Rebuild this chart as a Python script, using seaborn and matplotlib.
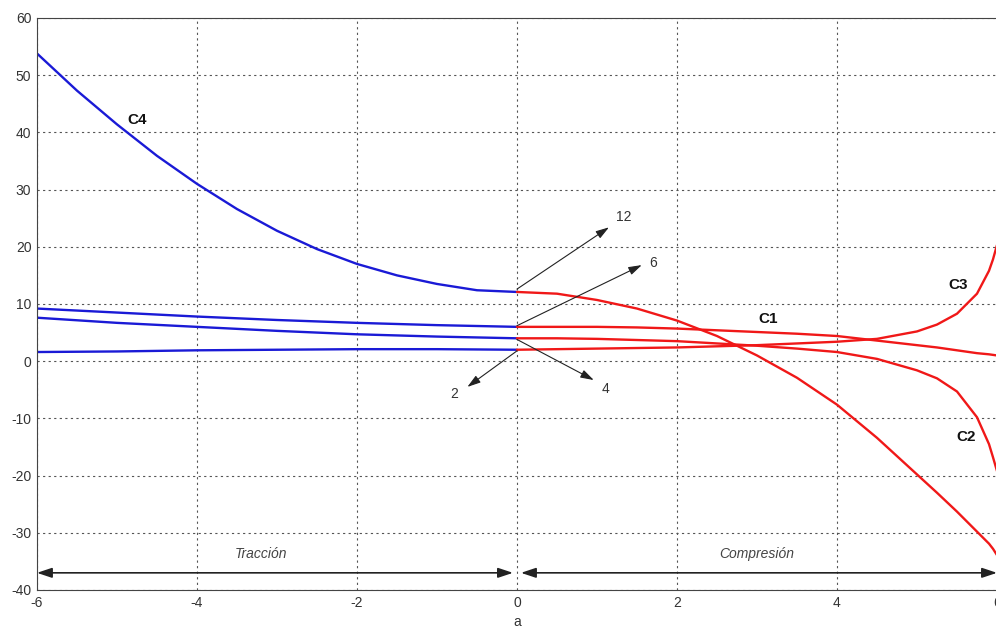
import numpy as np
import pandas as pd
import seaborn as sns
import matplotlib
matplotlib.use("Agg")
import matplotlib.pyplot as plt

# ---- data ----
x_left = [-6, -5.5, -5, -4.5, -4, -3.5, -3, -2.5, -2, -1.5, -1, -0.5, 0]
c4_left = [53.8, 47.3, 41.4, 35.9, 31.0, 26.6, 22.8, 19.6, 17.0, 15.0, 13.5, 12.4, 12.1]

x_left_flat = [-6, -5, -4, -3, -2, -1, 0]
c1_left = [9.2, 8.5, 7.8, 7.2, 6.7, 6.3, 6.0]
c2_left = [7.6, 6.7, 6.0, 5.3, 4.7, 4.3, 4.0]
c3_left = [1.6, 1.7, 1.9, 2.0, 2.1, 2.1, 2.0]

x_right = [0, 0.5, 1, 1.5, 2, 2.5, 3, 3.5, 4, 4.5, 5, 5.25, 5.5, 5.75, 5.9, 5.95, 6]
c4_right = [12.1, 11.8, 10.7, 9.2, 7.1, 4.4, 1.0, -2.9, -7.6, -13.4, -19.8, -23.0, -26.3, -29.8, -31.9, -32.8, -33.9]
c1_right = [6.0, 6.0, 6.0, 5.9, 5.7, 5.4, 5.1, 4.8, 4.4, 3.6, 2.8, 2.4, 1.9, 1.4, 1.2, 1.1, 1.0]
c2_right = [4.0, 4.0, 3.9, 3.7, 3.5, 3.1, 2.7, 2.2, 1.6, 0.4, -1.6, -3.0, -5.3, -9.8, -14.5, -16.8, -19.2]
c3_right = [2.0, 2.1, 2.2, 2.3, 2.4, 2.6, 2.8, 3.1, 3.4, 3.9, 5.2, 6.4, 8.3, 11.8, 15.8, 17.8, 20.3]

curve_names = ["C1", "C2", "C3", "C4"]
start_values = ["12", "6", "4", "2"]
x_ticks = [-6, -4, -2, 0, 2, 4, 6]
y_ticks = [-40, -30, -20, -10, 0, 10, 20, 30, 40, 50, 60]
region_labels = ["Tracción", "Compresión"]

# ---- style ----
sns.set_style("white")
plt.rcParams["font.family"] = ["Liberation Sans", "DejaVu Sans"]
plt.rcParams["axes.unicode_minus"] = False

fig = plt.figure(figsize=(9.96, 6.3), dpi=100)
ax = fig.add_axes([0.0371, 0.0635, 0.9639, 0.908])

BLUE = "#1a1ad6"
RED = "#f01818"
LW = 1.7

for xs, ys in [(x_left, c4_left), (x_left_flat, c1_left),
               (x_left_flat, c2_left), (x_left_flat, c3_left)]:
    sns.lineplot(x=xs, y=ys, color=BLUE, lw=LW, ax=ax, sort=False)
for xs, ys in [(x_right, c4_right), (x_right, c1_right),
               (x_right, c2_right), (x_right, c3_right)]:
    sns.lineplot(x=xs, y=ys, color=RED, lw=LW, ax=ax, sort=False)

ax.set_xlim(-6, 6)
ax.set_ylim(-40, 60)
ax.set_xticks(x_ticks)
ax.set_yticks(y_ticks)
ax.tick_params(direction="in", length=5, width=0.8, labelsize=10,
               labelcolor="#333333", colors="#333333", top=False, right=False, pad=4)
for t in ax.get_xticklabels() + ax.get_yticklabels():
    t.set_color("#333333")
ax.grid(True, linestyle=(0, (2, 3)), color="#555555", linewidth=0.8)
for s in ax.spines.values():
    s.set_color("#444444")
    s.set_linewidth(0.8)
ax.set_xlabel("a", fontsize=10, color="#333333", labelpad=4)
ax.set_ylabel("")

# curve labels
lab_pos = {"C4": (-4.75, 42.1), "C1": (3.14, 7.4), "C3": (5.51, 13.3), "C2": (5.61, -13.3)}
for name in curve_names:
    px, py = lab_pos[name]
    ax.text(px, py, name, fontsize=11, fontweight="bold", color="#111111",
            ha="center", va="center")

# arrows from starting values
arrow_specs = {
    "12": ((0.0, 12.6), (1.15, 23.4), (1.34, 25.2)),
    "6": ((0.0, 6.2), (1.56, 16.8), (1.70, 17.2)),
    "4": ((0.0, 3.8), (0.96, -3.3), (1.11, -4.8)),
    "2": ((0.0, 1.8), (-0.62, -4.5), (-0.78, -5.8)),
}
for lbl in start_values:
    (x0, y0), (x1, y1), (tx, ty) = arrow_specs[lbl]
    ax.annotate("", xy=(x1, y1), xytext=(x0, y0),
                arrowprops=dict(arrowstyle="-|>,head_length=0.8,head_width=0.25",
                                color="#222222", lw=0.8, shrinkA=0, shrinkB=0))
    ax.text(tx, ty, lbl, fontsize=10, color="#333333", ha="center", va="center")

# tension / compression double arrows
for (xa, xb), lbl, tx in [((-6.0, -0.05), region_labels[0], -3.2),
                           ((0.05, 6.0), region_labels[1], 3.0)]:
    ax.annotate("", xy=(xb, -37), xytext=(xa, -37),
                arrowprops=dict(arrowstyle="<|-|>,head_length=0.9,head_width=0.3",
                                color="#222222", lw=1.2, shrinkA=0, shrinkB=0))
    ax.text(tx, -33.7, lbl, fontsize=10, style="italic", color="#444444",
            ha="center", va="center")

fig.savefig("out.png", dpi=100)
